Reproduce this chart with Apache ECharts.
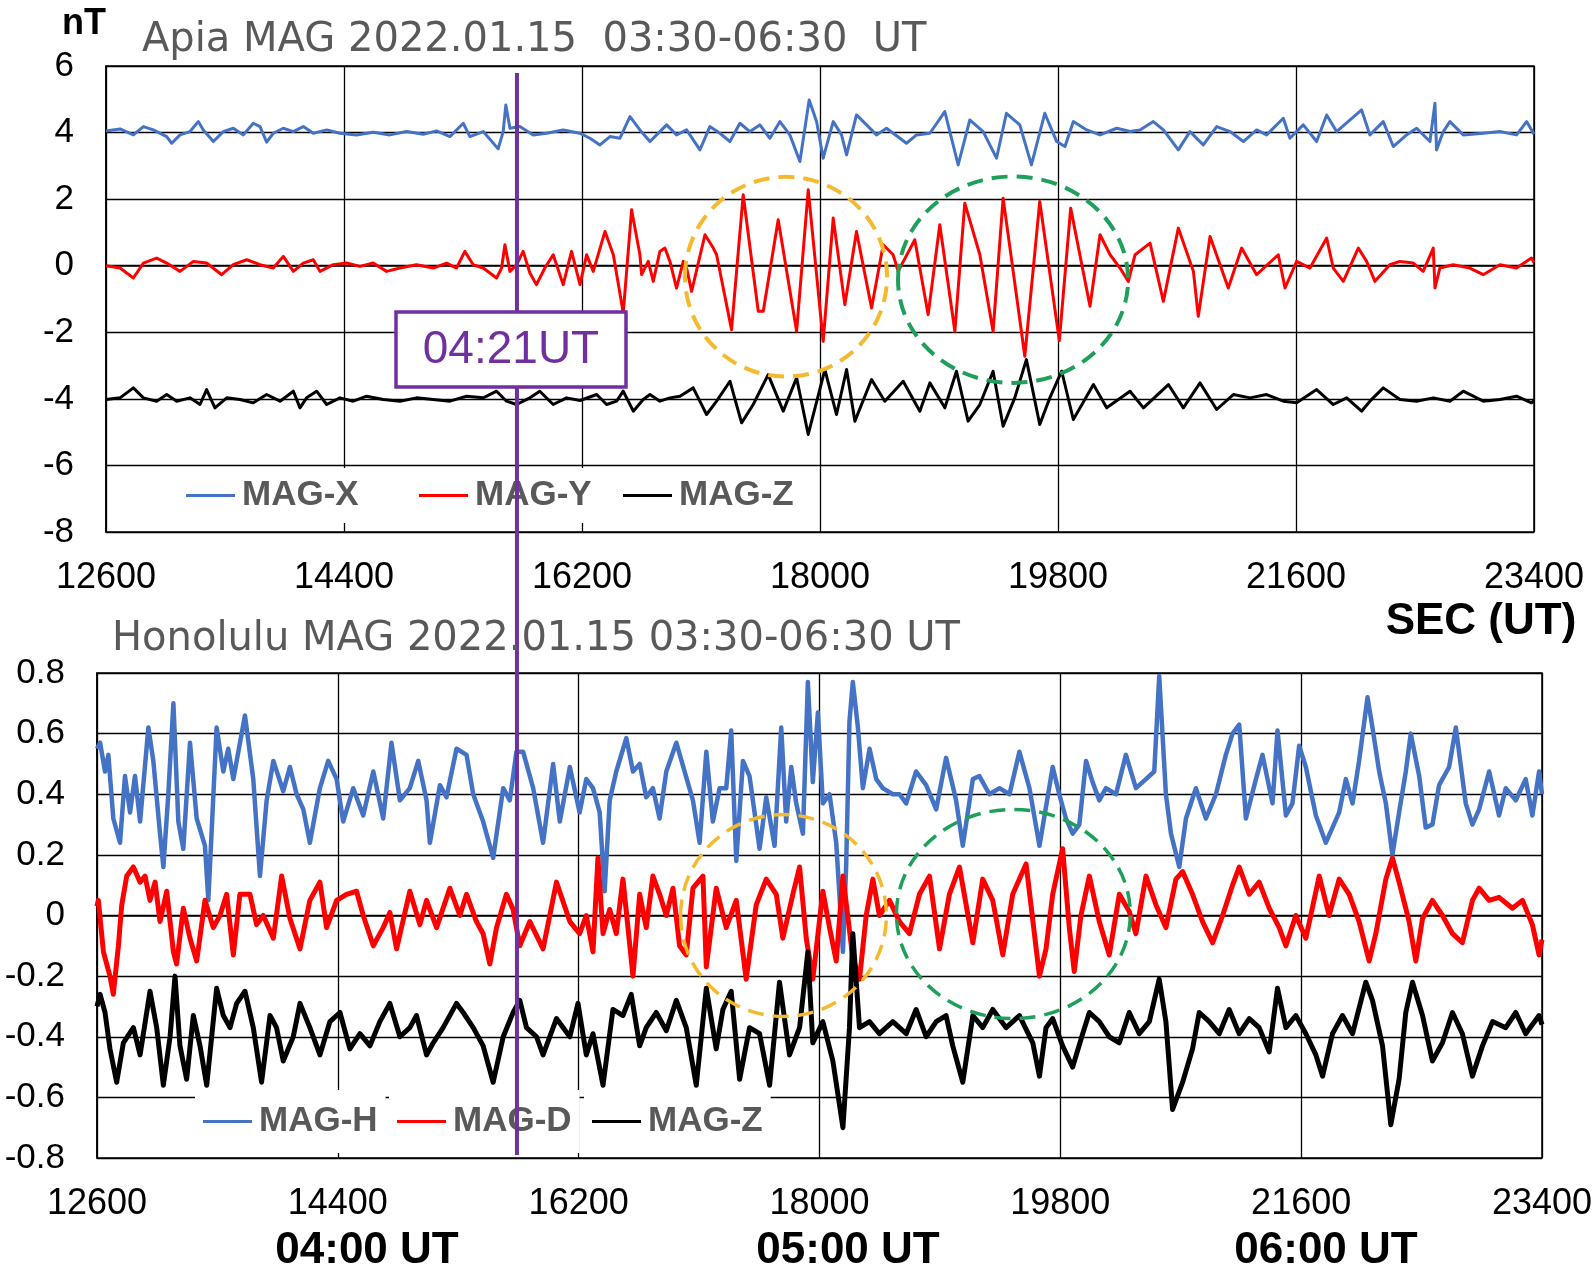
<!DOCTYPE html>
<html><head><meta charset="utf-8">
<script src="https://cdn.jsdelivr.net/npm/echarts@6/dist/echarts.min.js"></script>
<style>html,body{margin:0;padding:0;background:#fff}#c{width:1594px;height:1278px}</style>
</head><body><div id="c"></div>
<script>
// ---------- DATA (seconds UT, nT) ----------
const xTicks = [12600, 14400, 16200, 18000, 19800, 21600, 23400];
const apiaTicks = [-8, -6, -4, -2, 0, 2, 4, 6];
const honoTicks = [-0.8, -0.6, -0.4, -0.2, 0, 0.2, 0.4, 0.6, 0.8];
const markerSec = 15708;           // purple 04:21UT line as drawn
const markerLabel = '04:21UT';

// Apia
const apiaX = [[12600,4.05],[12706,4.11],[12807,3.93],[12883,4.18],[12958,4.08],[13059,3.88],[13097,3.68],[13160,3.93],[13235,4.03],[13298,4.33],
[13336,4.08],[13412,3.73],[13487,4.03],[13563,4.13],[13639,3.93],[13714,4.28],[13765,4.18],[13815,3.71],[13865,3.98],[13941,4.13],
[14017,4.03],[14092,4.18],[14168,3.98],[14269,4.08],[14369,3.98],[14495,3.93],[14621,4.01],[14747,3.93],[14873,4.03],[14999,3.95],
[15100,4.05],[15201,3.88],[15302,4.28],[15352,3.88],[15453,4.03],[15566,3.51],[15604,4.03],[15624,4.83],[15655,4.13],[15730,4.18],
[15831,3.93],[15932,3.98],[16058,4.08],[16184,3.98],[16260,3.83],[16336,3.63],[16411,3.88],[16487,3.83],[16563,4.48],[16638,4.08],
[16714,3.73],[16789,4.03],[16840,4.23],[16915,3.93],[16991,4.08],[17092,3.48],[17167,4.18],[17243,3.98],[17319,3.73],[17394,4.28],
[17470,4.03],[17545,4.23],[17621,3.83],[17697,4.33],[17772,3.93],[17848,3.13],[17918,4.98],[17974,4.33],[18024,3.23],[18100,4.33],
[18163,3.93],[18201,3.33],[18276,4.53],[18352,4.23],[18427,3.93],[18503,4.13],[18604,3.83],[18654,3.68],[18730,3.93],[18831,3.98],
[18944,4.63],[19045,3.03],[19133,4.38],[19234,4.03],[19335,3.23],[19410,4.58],[19511,4.23],[19599,3.03],[19700,4.58],[19790,3.73],
[19853,3.58],[19916,4.33],[20017,4.08],[20118,3.93],[20244,4.13],[20345,4.03],[20420,4.08],[20521,4.33],[20597,4.08],[20710,3.48],
[20798,4.03],[20899,3.63],[21000,4.18],[21101,4.03],[21202,3.73],[21302,4.08],[21378,3.93],[21504,4.43],[21554,3.83],[21655,4.23],
[21756,3.73],[21832,4.53],[21907,4.03],[22096,4.68],[22159,3.93],[22260,4.33],[22336,3.58],[22436,3.93],[22512,4.13],[22613,3.73],
[22651,4.88],[22663,3.48],[22714,4.03],[22764,4.33],[22865,3.93],[23016,3.98],[23142,4.03],[23268,3.93],[23344,4.33],[23400,3.95]];

const apiaY = [[12600,0.0],[12706,-0.07],[12807,-0.37],[12883,0.08],[12983,0.23],[13059,0.08],[13160,-0.17],[13261,0.13],[13361,0.08],[13475,-0.27],
[13563,0.03],[13664,0.18],[13765,0.03],[13865,-0.07],[13941,0.28],[14017,-0.17],[14092,0.08],[14168,0.18],[14218,-0.17],[14319,0.03],
[14420,0.08],[14521,-0.02],[14621,0.08],[14722,-0.17],[14823,-0.07],[14949,0.03],[15075,-0.07],[15176,0.08],[15251,-0.07],[15314,0.43],
[15377,0.03],[15453,-0.07],[15554,-0.37],[15592,-0.07],[15617,0.63],[15655,-0.17],[15705,0.03],[15755,0.43],[15806,-0.22],[15856,-0.57],
[15919,-0.07],[15982,0.33],[16058,-0.57],[16121,0.43],[16185,-0.57],[16235,0.33],[16285,-0.17],[16374,1.03],[16437,0.33],[16512,-1.42],
[16575,1.68],[16638,0.33],[16651,-0.27],[16701,0.13],[16739,-0.47],[16789,0.43],[16827,0.53],[16865,0.13],[16915,-0.67],[16966,0.13],
[16991,-0.07],[17029,-0.77],[17130,0.93],[17193,0.53],[17218,0.33],[17331,-1.92],[17419,2.13],[17533,-1.37],[17571,-1.37],[17684,1.38],
[17823,-1.97],[17911,2.28],[18024,-2.27],[18100,1.43],[18188,-1.17],[18276,1.03],[18390,-1.27],[18478,0.63],[18553,0.33],[18591,-0.17],
[18717,0.78],[18818,-1.47],[18906,1.23],[19020,-1.97],[19095,1.88],[19209,0.33],[19309,-1.97],[19385,2.03],[19549,-2.72],[19662,1.93],
[19810,-2.25],[19896,1.73],[20042,-1.22],[20118,0.93],[20194,0.33],[20269,-0.07],[20332,-0.47],[20383,0.33],[20496,0.68],[20597,-1.07],
[20710,1.13],[20824,-0.17],[20861,-1.52],[20950,0.88],[21088,-0.67],[21189,0.53],[21302,-0.27],[21466,0.33],[21517,-0.67],[21605,0.13],
[21706,-0.07],[21832,0.83],[21882,-0.07],[21958,-0.47],[22071,0.53],[22134,0.13],[22197,-0.47],[22310,0.03],[22386,0.13],[22487,0.08],
[22562,-0.17],[22638,0.53],[22651,-0.67],[22688,-0.07],[22789,0.03],[22915,-0.07],[23016,-0.27],[23142,0.03],[23268,-0.07],[23381,0.23],[23400,0.1]];

const apiaZ = [[12600,-4.02],[12706,-3.97],[12807,-3.67],[12883,-3.97],[12983,-4.07],[13059,-3.87],[13135,-4.07],[13235,-3.97],[13311,-4.17],[13361,-3.72],
[13424,-4.27],[13513,-3.97],[13613,-4.02],[13714,-4.12],[13815,-3.87],[13916,-4.07],[14017,-3.77],[14067,-4.27],[14117,-3.97],[14193,-3.77],
[14269,-4.17],[14369,-3.97],[14470,-4.07],[14571,-3.92],[14697,-4.02],[14823,-4.07],[14949,-3.97],[15075,-4.02],[15201,-4.07],[15327,-3.92],
[15453,-3.97],[15554,-3.77],[15629,-4.07],[15705,-4.17],[15806,-3.97],[15881,-3.77],[15982,-4.17],[16083,-3.97],[16185,-4.05],[16311,-3.87],
[16386,-4.17],[16462,-4.07],[16512,-3.77],[16588,-4.37],[16663,-4.02],[16714,-3.87],[16789,-4.07],[16865,-3.97],[16941,-3.92],[17041,-3.67],
[17142,-4.47],[17218,-4.07],[17319,-3.47],[17407,-4.72],[17495,-4.17],[17608,-3.27],[17722,-4.37],[17823,-3.37],[17911,-5.07],[18037,-3.12],
[18125,-4.47],[18201,-3.12],[18264,-4.67],[18390,-3.42],[18490,-4.07],[18629,-3.47],[18755,-4.37],[18831,-3.52],[18944,-4.27],[19032,-3.17],
[19120,-4.67],[19209,-4.17],[19309,-3.17],[19385,-4.82],[19473,-3.97],[19561,-2.82],[19662,-4.77],[19738,-3.97],[19828,-3.17],[19916,-4.62],
[20068,-3.57],[20168,-4.27],[20345,-3.77],[20446,-4.27],[20635,-3.57],[20748,-4.27],[20874,-3.52],[21000,-4.32],[21126,-3.87],[21252,-3.97],
[21378,-3.87],[21504,-4.07],[21605,-4.12],[21756,-3.72],[21882,-4.17],[21983,-3.97],[22096,-4.37],[22159,-4.07],[22260,-3.67],[22386,-4.02],
[22512,-4.07],[22638,-3.97],[22764,-4.07],[22865,-3.77],[23016,-4.07],[23142,-4.02],[23268,-3.92],[23381,-4.12],[23400,-4.05]];

// Honolulu
const honoH = [[12600,0.55],[12623,0.57],[12660,0.475],[12685,0.53],[12722,0.32],[12772,0.24],[12809,0.46],[12847,0.34],[12884,0.46],[12922,0.31],
[12984,0.62],[13021,0.51],[13071,0.27],[13096,0.16],[13133,0.40],[13171,0.70],[13208,0.31],[13245,0.22],[13295,0.57],[13345,0.32],
[13407,0.23],[13432,0.05],[13494,0.62],[13544,0.475],[13581,0.55],[13619,0.45],[13706,0.66],[13768,0.45],[13818,0.13],[13868,0.38],
[13918,0.51],[13992,0.41],[14042,0.49],[14092,0.40],[14142,0.35],[14191,0.24],[14266,0.42],[14328,0.51],[14391,0.45],[14440,0.31],
[14515,0.42],[14590,0.33],[14665,0.475],[14739,0.32],[14801,0.57],[14864,0.38],[14938,0.42],[15001,0.51],[15063,0.38],[15088,0.24],
[15163,0.43],[15212,0.39],[15287,0.55],[15362,0.53],[15412,0.40],[15486,0.31],[15561,0.19],[15636,0.42],[15685,0.38],[15735,0.54],
[15785,0.54],[15860,0.42],[15934,0.24],[16009,0.50],[16059,0.31],[16134,0.49],[16207,0.34],[16257,0.45],[16307,0.42],[16357,0.34],
[16394,0.08],[16432,0.38],[16481,0.475],[16556,0.585],[16606,0.475],[16656,0.50],[16705,0.39],[16755,0.42],[16805,0.32],[16855,0.475],
[16930,0.57],[16992,0.475],[17054,0.38],[17104,0.24],[17154,0.54],[17203,0.31],[17253,0.42],[17303,0.42],[17340,0.61],[17378,0.18],
[17428,0.51],[17477,0.46],[17552,0.22],[17602,0.39],[17664,0.23],[17714,0.62],[17751,0.31],[17789,0.49],[17826,0.37],[17876,0.27],
[17913,0.77],[17950,0.44],[17988,0.67],[18025,0.37],[18075,0.40],[18125,0.24],[18175,-0.12],[18199,0.16],[18224,0.64],[18249,0.77],
[18287,0.62],[18324,0.42],[18374,0.55],[18424,0.45],[18473,0.42],[18548,0.40],[18598,0.40],[18648,0.37],[18722,0.475],[18797,0.43],
[18872,0.35],[18946,0.52],[19021,0.38],[19071,0.23],[19146,0.45],[19195,0.46],[19270,0.40],[19345,0.42],[19420,0.40],[19494,0.54],
[19569,0.42],[19644,0.23],[19743,0.49],[19792,0.40],[19842,0.32],[19892,0.27],[19942,0.30],[19992,0.51],[20041,0.44],[20091,0.38],
[20141,0.42],[20216,0.40],[20290,0.53],[20365,0.42],[20440,0.45],[20502,0.475],[20539,0.79],[20589,0.40],[20627,0.27],[20689,0.16],
[20739,0.32],[20813,0.42],[20888,0.32],[20963,0.40],[21037,0.53],[21087,0.60],[21137,0.63],[21187,0.32],[21262,0.45],[21311,0.53],
[21386,0.37],[21423,0.61],[21486,0.33],[21535,0.37],[21585,0.56],[21635,0.49],[21710,0.33],[21784,0.24],[21834,0.29],[21884,0.34],
[21934,0.45],[21984,0.37],[22033,0.51],[22096,0.72],[22133,0.62],[22183,0.475],[22233,0.37],[22282,0.20],[22332,0.34],[22382,0.475],
[22419,0.60],[22482,0.46],[22531,0.29],[22581,0.30],[22631,0.43],[22706,0.49],[22756,0.62],[22830,0.37],[22880,0.30],[22930,0.35],
[23005,0.475],[23079,0.33],[23129,0.42],[23204,0.38],[23278,0.45],[23328,0.33],[23378,0.475],[23400,0.40]];

const honoD = [[12600,0.03],[12610,0.05],[12648,-0.12],[12697,-0.20],[12722,-0.26],[12760,-0.10],[12785,0.035],[12822,0.13],[12872,0.16],[12922,0.11],
[12959,0.13],[12996,0.05],[13034,0.11],[13071,-0.02],[13121,0.08],[13171,-0.12],[13195,-0.16],[13245,0.024],[13295,-0.075],[13345,-0.15],
[13407,0.05],[13469,-0.04],[13519,0.0],[13569,0.07],[13619,-0.13],[13668,0.07],[13743,0.07],[13793,-0.03],[13843,0.0],[13918,-0.075],
[13980,0.13],[14042,-0.01],[14117,-0.11],[14191,0.05],[14266,0.11],[14316,-0.04],[14391,0.05],[14465,0.07],[14540,0.08],[14590,0.0],
[14665,-0.10],[14739,-0.04],[14789,0.01],[14839,-0.11],[14938,0.08],[15013,-0.03],[15063,0.05],[15138,-0.04],[15237,0.09],[15312,0.0],
[15362,0.07],[15436,-0.02],[15486,-0.06],[15536,-0.16],[15586,-0.04],[15660,0.07],[15710,0.02],[15760,-0.10],[15835,-0.02],[15934,-0.11],
[16034,0.11],[16134,-0.02],[16207,-0.06],[16257,0.0],[16307,-0.12],[16344,0.19],[16382,-0.06],[16432,0.02],[16481,-0.06],[16531,0.12],
[16606,-0.20],[16656,0.07],[16705,-0.04],[16755,0.13],[16805,0.07],[16855,0.0],[16905,0.09],[16954,-0.10],[17004,-0.13],[17054,0.09],
[17129,0.13],[17154,-0.17],[17228,0.09],[17303,-0.04],[17378,0.05],[17452,-0.21],[17527,0.035],[17602,0.12],[17677,0.07],[17726,-0.075],
[17801,0.07],[17851,0.16],[17901,-0.075],[17950,-0.21],[18025,0.08],[18075,-0.04],[18125,-0.15],[18175,0.13],[18249,-0.14],[18299,-0.21],
[18349,0.0],[18399,0.12],[18448,0.0],[18523,0.05],[18598,-0.02],[18672,-0.06],[18747,0.07],[18822,0.13],[18897,-0.11],[18971,0.07],
[19046,0.16],[19146,-0.09],[19220,0.12],[19295,0.05],[19370,-0.13],[19444,0.07],[19544,0.17],[19644,-0.20],[19693,-0.11],[19743,0.07],
[19817,0.22],[19867,-0.04],[19904,-0.185],[19954,0.0],[20017,0.13],[20091,-0.02],[20166,-0.13],[20241,0.07],[20315,0.013],[20365,-0.06],
[20440,0.13],[20515,0.035],[20589,-0.04],[20664,0.12],[20714,0.145],[20788,0.07],[20863,-0.02],[20938,-0.09],[21013,0.0],[21087,0.10],
[21137,0.16],[21212,0.07],[21286,0.11],[21361,0.024],[21436,-0.04],[21486,-0.10],[21560,0.0],[21635,-0.075],[21735,0.13],[21809,0.0],
[21884,0.12],[21959,0.07],[22033,-0.02],[22108,-0.15],[22158,-0.06],[22233,0.12],[22282,0.19],[22332,0.11],[22407,-0.02],[22457,-0.15],
[22507,-0.01],[22581,0.05],[22656,0.0],[22731,-0.06],[22805,-0.09],[22880,0.05],[22930,0.09],[23005,0.05],[23079,0.06],[23179,0.024],
[23254,0.05],[23328,-0.03],[23378,-0.13],[23400,-0.08]];

const honoZ = [[12600,-0.30],[12623,-0.26],[12660,-0.32],[12697,-0.44],[12747,-0.55],[12797,-0.42],[12872,-0.37],[12922,-0.46],[12996,-0.25],[13046,-0.37],
[13096,-0.56],[13146,-0.40],[13183,-0.20],[13220,-0.43],[13270,-0.54],[13320,-0.33],[13370,-0.43],[13420,-0.56],[13494,-0.24],[13544,-0.33],
[13594,-0.37],[13644,-0.29],[13706,-0.25],[13768,-0.37],[13830,-0.55],[13893,-0.33],[13942,-0.37],[13992,-0.48],[14067,-0.40],[14117,-0.29],
[14191,-0.37],[14266,-0.46],[14341,-0.35],[14416,-0.32],[14490,-0.44],[14565,-0.39],[14640,-0.43],[14714,-0.35],[14789,-0.29],[14864,-0.40],
[14938,-0.37],[14988,-0.33],[15063,-0.46],[15113,-0.42],[15187,-0.37],[15287,-0.29],[15337,-0.32],[15412,-0.37],[15486,-0.43],[15561,-0.55],
[15636,-0.40],[15710,-0.32],[15760,-0.28],[15810,-0.37],[15885,-0.40],[15934,-0.46],[16034,-0.34],[16134,-0.40],[16195,-0.29],[16257,-0.46],
[16307,-0.39],[16382,-0.56],[16456,-0.31],[16531,-0.33],[16593,-0.26],[16656,-0.43],[16705,-0.37],[16780,-0.32],[16855,-0.38],[16930,-0.28],
[17004,-0.37],[17079,-0.56],[17154,-0.24],[17228,-0.44],[17278,-0.31],[17340,-0.25],[17403,-0.54],[17477,-0.37],[17552,-0.39],[17627,-0.56],
[17701,-0.22],[17776,-0.46],[17851,-0.37],[17913,-0.12],[17950,-0.42],[18025,-0.35],[18100,-0.48],[18175,-0.70],[18224,-0.37],[18249,-0.06],
[18299,-0.37],[18374,-0.35],[18448,-0.39],[18548,-0.35],[18648,-0.39],[18722,-0.31],[18797,-0.40],[18872,-0.35],[18946,-0.33],[18996,-0.43],
[19071,-0.55],[19146,-0.33],[19220,-0.37],[19295,-0.31],[19395,-0.37],[19494,-0.33],[19594,-0.42],[19644,-0.53],[19693,-0.37],[19743,-0.34],
[19817,-0.43],[19892,-0.50],[19967,-0.39],[20017,-0.32],[20091,-0.35],[20166,-0.40],[20241,-0.42],[20315,-0.32],[20390,-0.39],[20465,-0.35],
[20539,-0.21],[20589,-0.35],[20639,-0.64],[20714,-0.55],[20788,-0.44],[20838,-0.32],[20913,-0.35],[20988,-0.39],[21062,-0.31],[21137,-0.39],
[21212,-0.34],[21286,-0.37],[21361,-0.45],[21423,-0.24],[21486,-0.37],[21560,-0.33],[21635,-0.39],[21710,-0.46],[21760,-0.53],[21834,-0.39],
[21909,-0.33],[21984,-0.39],[22083,-0.22],[22133,-0.28],[22208,-0.43],[22270,-0.69],[22332,-0.54],[22382,-0.32],[22432,-0.22],[22507,-0.33],
[22581,-0.48],[22656,-0.42],[22731,-0.32],[22805,-0.39],[22880,-0.53],[22955,-0.43],[23030,-0.35],[23129,-0.37],[23204,-0.32],[23278,-0.39],
[23378,-0.33],[23400,-0.36]];

// highlighted intervals (center sec, center value, half-width sec, half-height value)
const apiaCircles = [[17743, -0.33, 764, 3.0], [19460, -0.42, 870, 3.1]];
const honoCircles = [[17731, 0.0, 769, 0.333], [19449, 0.005, 874, 0.345]];

// ---------- CHART ----------
const FONT = '"Liberation Sans", Arial, sans-serif';
const TFONT = '"DejaVu Sans", sans-serif';
const BLUE = '#4472C4', RED = '#FF0000', BLACK = '#000000', PURPLE = '#7030A0';
const GOLD = '#F4B92E', GREEN = '#1FA05A';

function xAxisCfg(gi, showLbl) {
  return {
    gridIndex: gi, type: 'value', min: xTicks[0], max: xTicks[xTicks.length - 1], interval: 1800,
    show: showLbl,
    axisLine: { show: true, lineStyle: { color: '#000', width: 1.5 } },
    axisTick: { show: false },
    splitLine: { show: true, lineStyle: { color: '#000', width: 1.3 } },
    axisLabel: { color: '#000', fontSize: 36, fontFamily: FONT, margin: 28, formatter: v => String(Math.round(v)) }
  };
}
function yAxisCfg(gi, ticks, fmt) {
  return {
    gridIndex: gi, type: 'value', min: ticks[0], max: ticks[ticks.length - 1],
    interval: +(ticks[1] - ticks[0]).toFixed(2),
    axisLine: { show: true, lineStyle: { color: '#000', width: 1.5 } },
    axisTick: { show: false },
    splitLine: { show: true, lineStyle: { color: '#000', width: 1.3 } },
    axisLabel: { color: '#000', fontSize: 35, fontFamily: FONT, margin: 32, formatter: fmt }
  };
}
function lineSeries(name, gi, data, color, w) {
  return { type: 'line', name, xAxisIndex: gi, yAxisIndex: gi, data, color,
    symbol: 'none', silent: true, lineStyle: { color, width: w, join: 'round' }, z: 2, animation: false };
}
function ellipseSeries(gi, data, color, w) {
  return {
    type: 'custom', xAxisIndex: gi, yAxisIndex: gi, data, silent: true, z: 6, clip: false,
    renderItem(params, api) {
      const c = api.coord([api.value(0), api.value(1)]);
      const s = api.size([api.value(2), api.value(3)]);
      return { type: 'ellipse', shape: { cx: c[0], cy: c[1], rx: s[0], ry: s[1] },
        style: { fill: null, stroke: color, lineWidth: w, lineDash: [16, 9] } };
    }
  };
}
function legendCfg(name, left, top, pad) {
  return {
    data: [name], left, top, orient: 'horizontal', selectedMode: false,
    backgroundColor: '#fff', padding: [pad, 8, pad, 8], icon: 'rect',
    itemWidth: 49, itemHeight: 3, itemGap: 0,
    textStyle: { color: '#595959', fontSize: 35, fontWeight: 'bold', fontFamily: FONT, padding: [0, 0, 0, 2] }
  };
}

const chart = echarts.init(document.getElementById('c'), null, { renderer: 'canvas' });
chart.setOption({
  animation: false,
  backgroundColor: '#fff',
  grid: [
    { left: 106, top: 66, width: 1428, height: 466, show: true, borderColor: '#000', borderWidth: 1.5, containLabel: false, outerBoundsMode: 'none' },
    { left: 97, top: 673, width: 1445, height: 485, show: true, borderColor: '#000', borderWidth: 1.5, containLabel: false, outerBoundsMode: 'none' },
    { left: 106, top: 73, width: 1428, height: 1082, show: false, containLabel: false, outerBoundsMode: 'none' }
  ],
  xAxis: [
    xAxisCfg(0, true), xAxisCfg(1, true),
    { gridIndex: 2, type: 'value', min: xTicks[0], max: xTicks[xTicks.length - 1], show: false }
  ],
  yAxis: [
    yAxisCfg(0, apiaTicks, v => String(Math.round(v))),
    yAxisCfg(1, honoTicks, v => String(Math.round(v * 10) / 10)),
    { gridIndex: 2, type: 'value', min: 0, max: 1, show: false }
  ],
  legend: [
    legendCfg('MAG-X', 178, 468, 10), legendCfg('MAG-Y', 411, 468, 10), legendCfg('MAG-Z', 615, 468, 10),
    legendCfg('MAG-H', 195, 1090, 14), legendCfg('MAG-D', 389, 1090, 14), legendCfg('MAG-Z', 584, 1090, 14)
  ],
  series: [
    lineSeries('MAG-X', 0, apiaX, BLUE, 3),
    lineSeries('MAG-Y', 0, apiaY, RED, 3),
    lineSeries('MAG-Z', 0, apiaZ, BLACK, 3),
    lineSeries('MAG-H', 1, honoH, BLUE, 4.5),
    lineSeries('MAG-D', 1, honoD, RED, 5),
    lineSeries('MAG-Z', 1, honoZ, BLACK, 5),
    ellipseSeries(0, [apiaCircles[0]], GOLD, 4),
    ellipseSeries(0, [apiaCircles[1]], GREEN, 4),
    ellipseSeries(1, [honoCircles[0]], GOLD, 3.5),
    ellipseSeries(1, [honoCircles[1]], GREEN, 3.5),
    { type: 'line', xAxisIndex: 2, yAxisIndex: 2, data: [[markerSec, 0], [markerSec, 1]],
      symbol: 'none', silent: true, z: 20, lineStyle: { color: PURPLE, width: 4 } }
  ],
  graphic: [
    { type: 'text', x: 62, y: 24, z: 50, style: { text: 'nT', fill: '#000', font: 'bold 36px ' + FONT, align: 'left', verticalAlign: 'middle' } },
    { type: 'text', x: 142, y: 41, z: 50, style: { text: 'Apia MAG 2022.01.15  03:30-06:30  UT', fill: '#595959', font: '40px ' + TFONT, align: 'left', verticalAlign: 'middle' } },
    { type: 'text', x: 112, y: 640, z: 50, style: { text: 'Honolulu MAG 2022.01.15 03:30-06:30 UT', fill: '#595959', font: '40px ' + TFONT, align: 'left', verticalAlign: 'middle' } },
    { type: 'text', x: 1481, y: 622, z: 50, style: { text: 'SEC (UT)', fill: '#000', font: 'bold 44px ' + FONT, align: 'center', verticalAlign: 'middle' } },
    { type: 'text', x: 367, y: 1251, z: 50, style: { text: '04:00 UT', fill: '#000', font: 'bold 44px ' + FONT, align: 'center', verticalAlign: 'middle' } },
    { type: 'text', x: 848, y: 1251, z: 50, style: { text: '05:00 UT', fill: '#000', font: 'bold 44px ' + FONT, align: 'center', verticalAlign: 'middle' } },
    { type: 'text', x: 1326, y: 1251, z: 50, style: { text: '06:00 UT', fill: '#000', font: 'bold 44px ' + FONT, align: 'center', verticalAlign: 'middle' } },
    { type: 'rect', z: 100, shape: { x: 396, y: 312, width: 230, height: 75 }, style: { fill: '#fff', stroke: PURPLE, lineWidth: 3.5 } },
    { type: 'text', x: 511, y: 350, z: 101, style: { text: markerLabel, fill: PURPLE, font: '46px ' + FONT, align: 'center', verticalAlign: 'middle' } }
  ]
});
</script>
</body></html>
